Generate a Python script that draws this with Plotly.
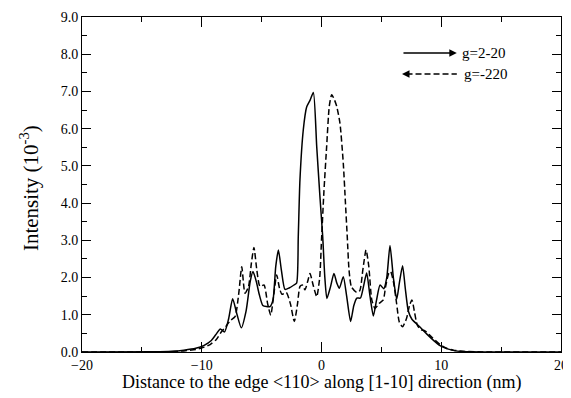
import plotly.graph_objects as go

# g=2-20 (solid)
x_solid = [-20, -14, -12.5, -11.5, -10.5, -9.8, -9.2, -8.75, -8.45, -8.1, -7.75, -7.42, -7.05, -6.7,
           -6.3, -5.95, -5.72, -5.45, -5.2, -4.9, -4.6, -4.3, -4.05, -3.82, -3.6, -3.35, -3.05, -2.7,
           -2.3, -2.08, -1.94, -1.8, -1.52, -1.24, -0.96, -0.68, -0.4, -0.13, 0.1, 0.28, 0.45,
           0.75, 1.04, 1.28, 1.49, 1.82, 2.1, 2.43, 2.7, 2.95, 3.25, 3.5, 3.77, 4.05, 4.33, 4.6,
           4.89, 5.2, 5.45, 5.72, 6.0, 6.28, 6.5, 6.77, 7.0, 7.25, 7.55, 8.2, 8.8, 9.4, 9.9,
           10.45, 11.2, 12.5, 14, 20]
y_solid = [0, 0.005, 0.02, 0.05, 0.1, 0.18, 0.31, 0.5, 0.62, 0.54, 0.9, 1.43, 1.0, 0.65,
           1.1, 1.9, 2.16, 1.9, 1.55, 1.25, 1.22, 1.22, 1.4, 2.3, 2.74, 2.2, 1.68, 1.72,
           1.8, 1.85, 3.1, 4.62, 5.97, 6.58, 6.76, 6.97, 5.52, 4.17, 3.1, 2.0, 1.44,
           1.75, 2.11, 1.85, 1.71, 2.02, 1.5, 0.82, 1.25, 1.45, 1.45, 1.75, 2.12, 1.5, 0.97, 1.4,
           1.8, 1.7, 2.0, 2.86, 2.0, 1.42, 1.85, 2.32, 1.7, 1.1, 0.88, 0.68, 0.48, 0.3, 0.17,
           0.09, 0.03, 0.005, 0.0, 0]

# g=-220 (dashed)
x_dash = [-20, -14, -12.5, -11.5, -10.5, -9.8, -9.3, -8.8, -8.34, -8.0, -7.6, -7.22, -6.9, -6.66,
          -6.39, -6.1, -5.85, -5.64, -5.4, -5.14, -4.8, -4.5, -4.24, -4.0, -3.74, -3.5, -3.3,
          -2.95, -2.6, -2.27, -2.0, -1.8, -1.6, -1.38, -1.15, -0.96, -0.7, -0.4, -0.15, 0.0,
          0.2, 0.43, 0.65, 0.85, 1.05, 1.27, 1.54, 1.82, 2.0, 2.15, 2.3, 2.5, 2.94, 3.2, 3.45,
          3.72, 3.95, 4.2, 4.47, 4.8, 5.16, 5.35, 5.6, 5.77, 6.0, 6.27, 6.5, 6.77, 7.1, 7.35,
          7.55, 7.75, 8.0, 8.3, 8.64, 9.2, 9.9, 10.45, 11.0, 12.0, 13.5, 20]
y_dash = [0, 0.003, 0.01, 0.03, 0.07, 0.13, 0.2, 0.33, 0.55, 0.68, 0.85, 0.95, 1.6, 2.29,
          1.58, 1.75, 2.4, 2.81, 2.2, 1.76, 1.8, 1.3, 0.99, 1.5, 2.07, 1.7, 1.55,
          1.6, 1.3, 0.82, 1.3, 1.76, 1.8, 1.67, 1.9, 2.11, 1.8, 1.49, 2.0, 3.0,
          4.3, 5.52, 6.6, 6.91, 6.8, 6.6, 6.15, 5.07, 4.0, 3.1, 2.2, 1.75, 1.6, 1.65, 2.2,
          2.74, 2.3, 1.4, 1.17, 1.3, 1.4, 1.75, 2.1, 2.16, 1.9, 1.31, 0.8, 0.68, 0.9, 1.25,
          1.4, 1.1, 0.72, 0.6, 0.57, 0.4, 0.2, 0.1, 0.05, 0.015, 0.003, 0]

x_ticks = [-20, -10, 0, 10, 20]
y_ticks = [0, 1, 2, 3, 4, 5, 6, 7, 8, 9]
legend_labels = ["g=2-20", "g=-220"]

FONT = "Liberation Serif, Times New Roman, serif"

fig = go.Figure()
fig.add_trace(go.Scatter(x=x_solid, y=y_solid, mode="lines",
                         line=dict(color="black", width=1.5, shape="spline", smoothing=0.6),
                         name=legend_labels[0], showlegend=False))
fig.add_trace(go.Scatter(x=x_dash, y=y_dash, mode="lines",
                         line=dict(color="black", width=1.5, dash="6px,3px", shape="spline", smoothing=0.6),
                         name=legend_labels[1], showlegend=False))

# legend: solid line with arrow to the right
fig.add_annotation(x=11.3, y=8.03, ax=6.72, ay=8.03, xref="x", yref="y", axref="x", ayref="y",
                   showarrow=True, arrowhead=2, arrowsize=1, arrowwidth=1.5, arrowcolor="black", text="")
fig.add_annotation(x=11.6, y=8.03, xref="x", yref="y", text=legend_labels[0], showarrow=False,
                   xanchor="left", font=dict(family=FONT, size=15, color="black"))
# dashed line with arrow to the left
fig.add_shape(type="line", x0=7.1, x1=11.3, y0=7.47, y1=7.47, xref="x", yref="y",
              line=dict(color="black", width=1.5, dash="6px,3px"))
fig.add_annotation(x=6.72, y=7.47, ax=7.2, ay=7.47, xref="x", yref="y", axref="x", ayref="y",
                   showarrow=True, arrowhead=2, arrowsize=1, arrowwidth=1.5, arrowcolor="black", text="")
fig.add_annotation(x=11.75, y=7.47, xref="x", yref="y", text=legend_labels[1], showarrow=False,
                   xanchor="left", font=dict(family=FONT, size=15, color="black"))

# axis titles
fig.add_annotation(x=0.5, y=-0.0925, xref="paper", yref="paper", xanchor="center", yanchor="middle",
                   text="Distance to the edge &lt;110&gt; along [1-10] direction (nm)", showarrow=False,
                   font=dict(family=FONT, size=18, color="black"))
fig.add_annotation(x=-0.108, y=0.49, xref="paper", yref="paper", xanchor="center", yanchor="middle",
                   text="Intensity (10<sup>-3</sup>)", textangle=-90, showarrow=False,
                   font=dict(family=FONT, size=21, color="black"))

axis_common = dict(showline=True, linecolor="black", linewidth=1, ticks="inside",
                   tickcolor="black", tickwidth=1, mirror="ticks", showgrid=False, zeroline=False,
                   automargin=False,
                   tickfont=dict(family=FONT, size=14, color="black"))

fig.update_xaxes(range=[-20, 20], tickvals=x_ticks, ticklen=10,
                 minor=dict(dtick=5, ticklen=5, ticks="inside", tickcolor="black", showgrid=False),
                 **axis_common)
fig.update_yaxes(range=[0, 9], tickvals=y_ticks, tickformat=".1f", ticklen=9,
                 minor=dict(dtick=0.5, ticklen=5, ticks="inside", tickcolor="black", showgrid=False),
                 **axis_common)

# the page body adds an 8px offset, so the figure is 8px smaller than the window
fig.update_layout(width=563, height=390, margin=dict(l=74, r=10, t=9, b=46, autoexpand=False),
                  font=dict(family=FONT, color="black"),
                  plot_bgcolor="white", paper_bgcolor="white", showlegend=False)

fig.write_html("out.html")
